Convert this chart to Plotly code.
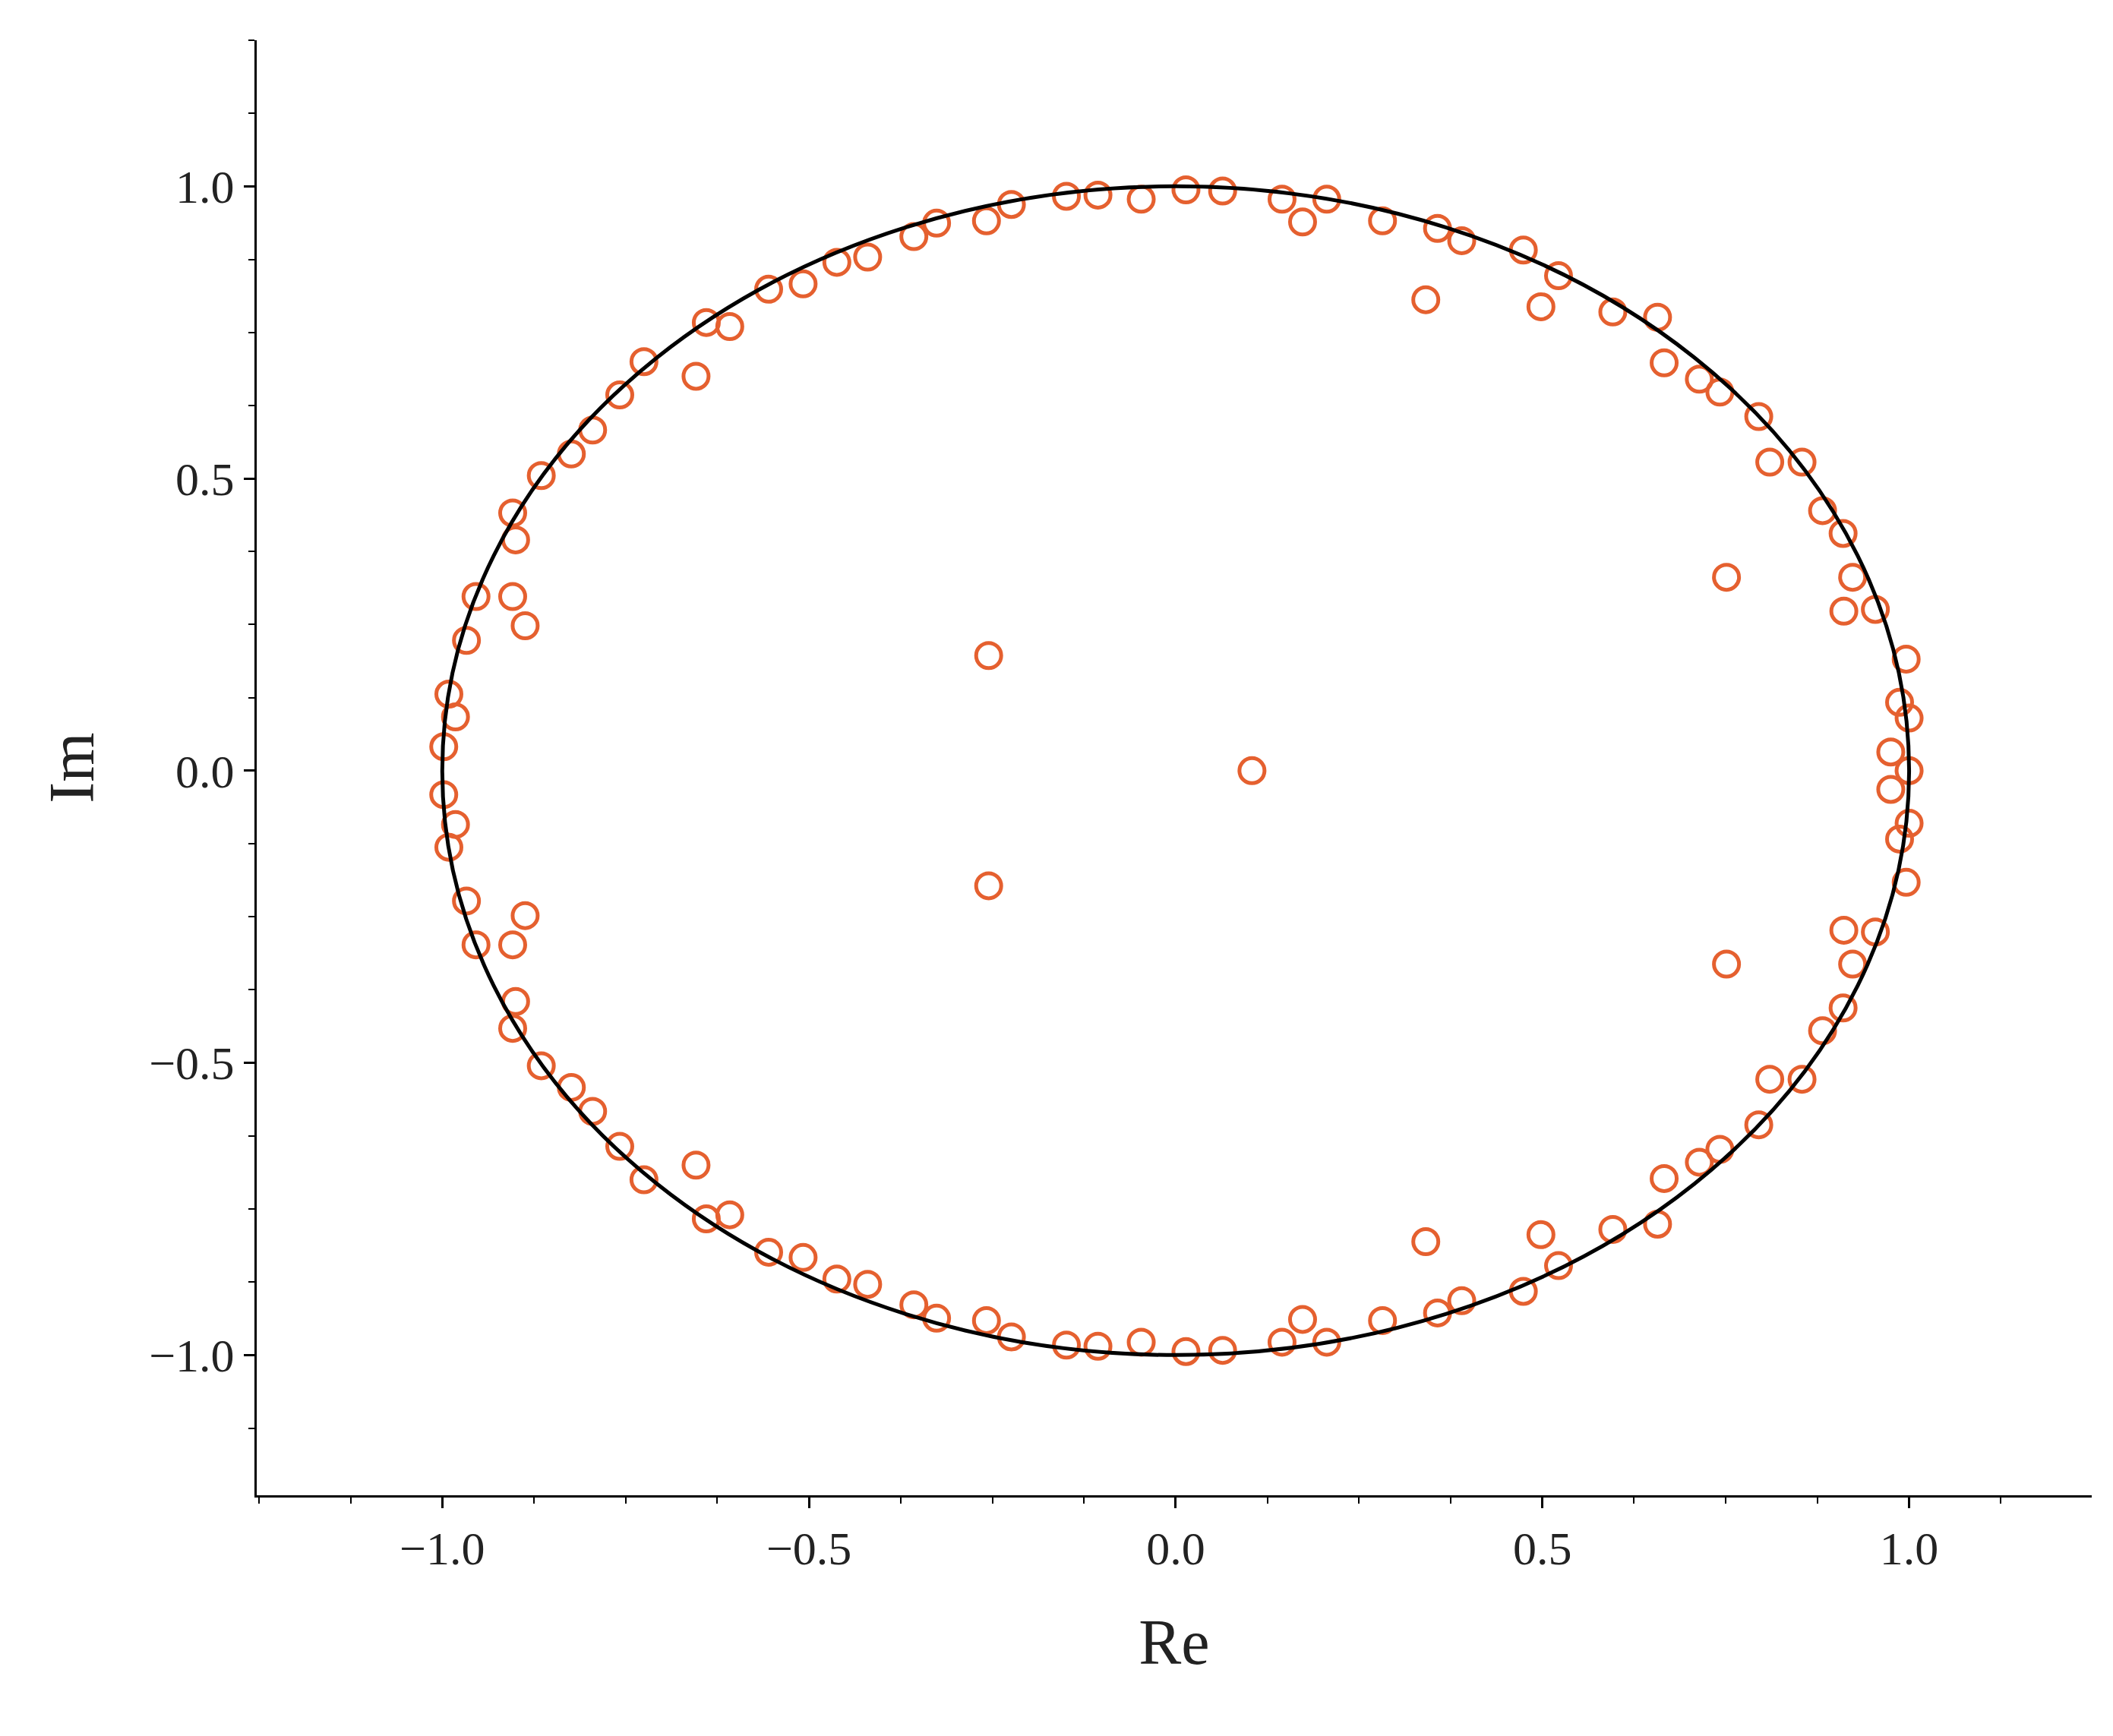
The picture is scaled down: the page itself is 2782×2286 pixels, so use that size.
import plotly.graph_objects as go

# upper-half eigenvalues (conjugates mirrored below)
re_up = [0.014,0.064,-0.047,-0.106,-0.149,-0.224,-0.258,-0.326,-0.357,-0.420,-0.462,-0.508,-0.555,
         -0.608,-0.640,-0.654,-0.725,-0.758,-0.795,-0.824,-0.865,-0.904,-0.900,-0.904,-0.954,-0.887,
         -0.967,-0.991,-0.982,-0.998,0.145,0.173,0.206,0.282,0.357,0.390,0.341,0.474,0.522,0.498,
         0.596,0.657,0.666,0.714,0.742,0.795,0.810,0.854,0.882,0.910,0.751,0.923,0.954,0.911,
         0.996,0.987,1.000,0.975,-0.255]
im_up = [0.994,0.992,0.978,0.985,0.983,0.969,0.941,0.937,0.914,0.879,0.870,0.833,0.824,
         0.760,0.767,0.675,0.700,0.643,0.583,0.542,0.505,0.441,0.395,0.298,0.298,0.248,
         0.223,0.131,0.092,0.041,0.978,0.939,0.978,0.941,0.928,0.907,0.806,0.891,0.847,0.794,
         0.785,0.776,0.698,0.670,0.648,0.606,0.528,0.528,0.445,0.406,0.331,0.331,0.276,0.273,
         0.191,0.117,0.090,0.032,0.197]
re_real = [0.104, 1.0]
im_real = [0.0, 0.0]

re_all = re_up + re_up + re_real
im_all = im_up + [-v for v in im_up] + im_real

fig = go.Figure()
fig.add_shape(type="circle", xref="x", yref="y", x0=-1, y0=-1, x1=1, y1=1,
              line=dict(color="black", width=5))
fig.add_trace(go.Scatter(x=re_all, y=im_all, mode="markers",
                         marker=dict(symbol="circle-open", size=33, color="#E5602F",
                                     line=dict(width=5, color="#E5602F"))))
ax = dict(showgrid=False, zeroline=False, showline=True, linecolor="black", linewidth=3,
          ticks="outside", ticklen=14, tickwidth=3, tickcolor="black", dtick=0.5,
          tickformat=".1f", tickfont=dict(size=62, family="Liberation Serif", color="#222"),
          minor=dict(ticks="outside", ticklen=8, tickwidth=2, dtick=0.125, tickcolor="black"))
fig.update_xaxes(**ax, range=[-1.253, 1.249], title=dict(text="Re", font=dict(size=84, family="Liberation Serif", color="#222"), standoff=60))
fig.update_yaxes(**ax, range=[-1.24, 1.25], title=dict(text="Im", font=dict(size=84, family="Liberation Serif", color="#222"), standoff=45))
fig.update_layout(width=2782, height=2286, plot_bgcolor="white", paper_bgcolor="white",
                  showlegend=False, margin=dict(l=330, r=36, t=45, b=325))
fig.write_html("out.html")
